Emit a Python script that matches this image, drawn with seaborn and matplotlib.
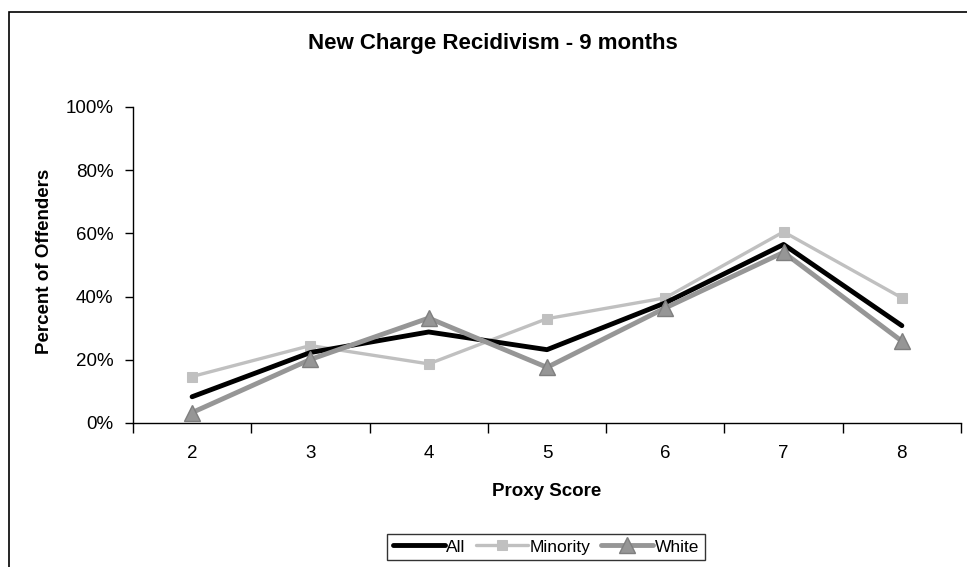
import matplotlib
matplotlib.use("Agg")
import matplotlib.pyplot as plt
from matplotlib.patches import Rectangle
from matplotlib.ticker import FixedLocator, FuncFormatter
import seaborn as sns
import pandas as pd

sns.set_theme(style="ticks")
plt.rcParams['font.family'] = ['Liberation Sans', 'DejaVu Sans']
plt.rcParams['text.color'] = 'black'
plt.rcParams['axes.labelcolor'] = 'black'
plt.rcParams['xtick.color'] = 'black'
plt.rcParams['ytick.color'] = 'black'

# values (percent of offenders)
scores = [2, 3, 4, 5, 6, 7, 8]
all_pct = [8.3, 22.3, 28.8, 23.2, 38.0, 56.5, 30.8]
minority_pct = [14.7, 24.5, 18.7, 33.0, 39.6, 60.5, 39.6]
white_pct = [3.3, 20.1, 33.2, 17.6, 36.4, 54.0, 25.9]
y_ticks = [0, 20, 40, 60, 80, 100]

df = pd.DataFrame({"score": scores, "All": all_pct,
                   "Minority": minority_pct, "White": white_pct})

fig = plt.figure(figsize=(9.67, 5.67), dpi=100)
ax = fig.add_axes([0.1375, 0.254, 0.8563, 0.5573])

# outer chart frame (cut off at right and bottom in the original)
fig.patches.append(Rectangle((9 / 967, -0.2), 1.5, 1.2 - 12 / 567,
                             transform=fig.transFigure, fill=False,
                             edgecolor="black", linewidth=1.2))

sns.lineplot(data=df, x="score", y="All", ax=ax, color="black",
             linewidth=3.5, label="All", zorder=3)
sns.lineplot(data=df, x="score", y="Minority", ax=ax, color="#c0c0c0",
             linewidth=2.4, marker="s", markersize=7, markeredgecolor="#c0c0c0",
             label="Minority", zorder=2)
sns.lineplot(data=df, x="score", y="White", ax=ax, color="#969696",
             linewidth=3.5, marker="^", markersize=11, markeredgecolor="#7f7f7f",
             markeredgewidth=1, label="White", zorder=4)

ax.set_xlim(1.5, 8.5)
ax.set_ylim(0, 100)

# category boundaries carry the tick marks, labels sit at the centres
ax.xaxis.set_major_locator(FixedLocator([s + 0.5 for s in [1] + scores]))
ax.xaxis.set_major_formatter(FuncFormatter(lambda v, p: ""))
ax.xaxis.set_minor_locator(FixedLocator(scores))
ax.xaxis.set_minor_formatter(FuncFormatter(lambda v, p: f"{int(v)}"))
ax.tick_params(axis="x", which="major", length=7, width=1, direction="out")
ax.tick_params(axis="x", which="minor", length=0, labelsize=13.5, pad=16)

ax.set_yticks(y_ticks)
ax.yaxis.set_major_formatter(FuncFormatter(lambda v, p: f"{int(v)}%"))
ax.tick_params(axis="y", length=6, width=1, labelsize=13.5, pad=8)

for side in ["top", "right"]:
    ax.spines[side].set_visible(False)
for side in ["left", "bottom"]:
    ax.spines[side].set_color("black")
    ax.spines[side].set_linewidth(1)

fig.text(493 / 967, 1 - 43 / 567, "New Charge Recidivism - 9 months",
         fontsize=16, fontweight="bold", ha="center", va="center")
ax.set_xlabel("Proxy Score", fontsize=13.5, fontweight="bold", labelpad=15)
ax.set_ylabel("Percent of Offenders", fontsize=13.5, fontweight="bold")
ax.yaxis.set_label_coords(-0.0966, 0.51)

ax.get_legend().remove()
h, l = ax.get_legend_handles_labels()
leg = fig.legend(h, l, loc="center", bbox_to_anchor=(0.5646, 0.0353), ncol=3,
                 frameon=True, fancybox=False, edgecolor="black", fontsize=12.5,
                 handlelength=3.0, handletextpad=0.1, columnspacing=0.6,
                 borderpad=0.3)
leg.get_frame().set_linewidth(1)

fig.savefig("out.png", dpi=100, facecolor="white")
